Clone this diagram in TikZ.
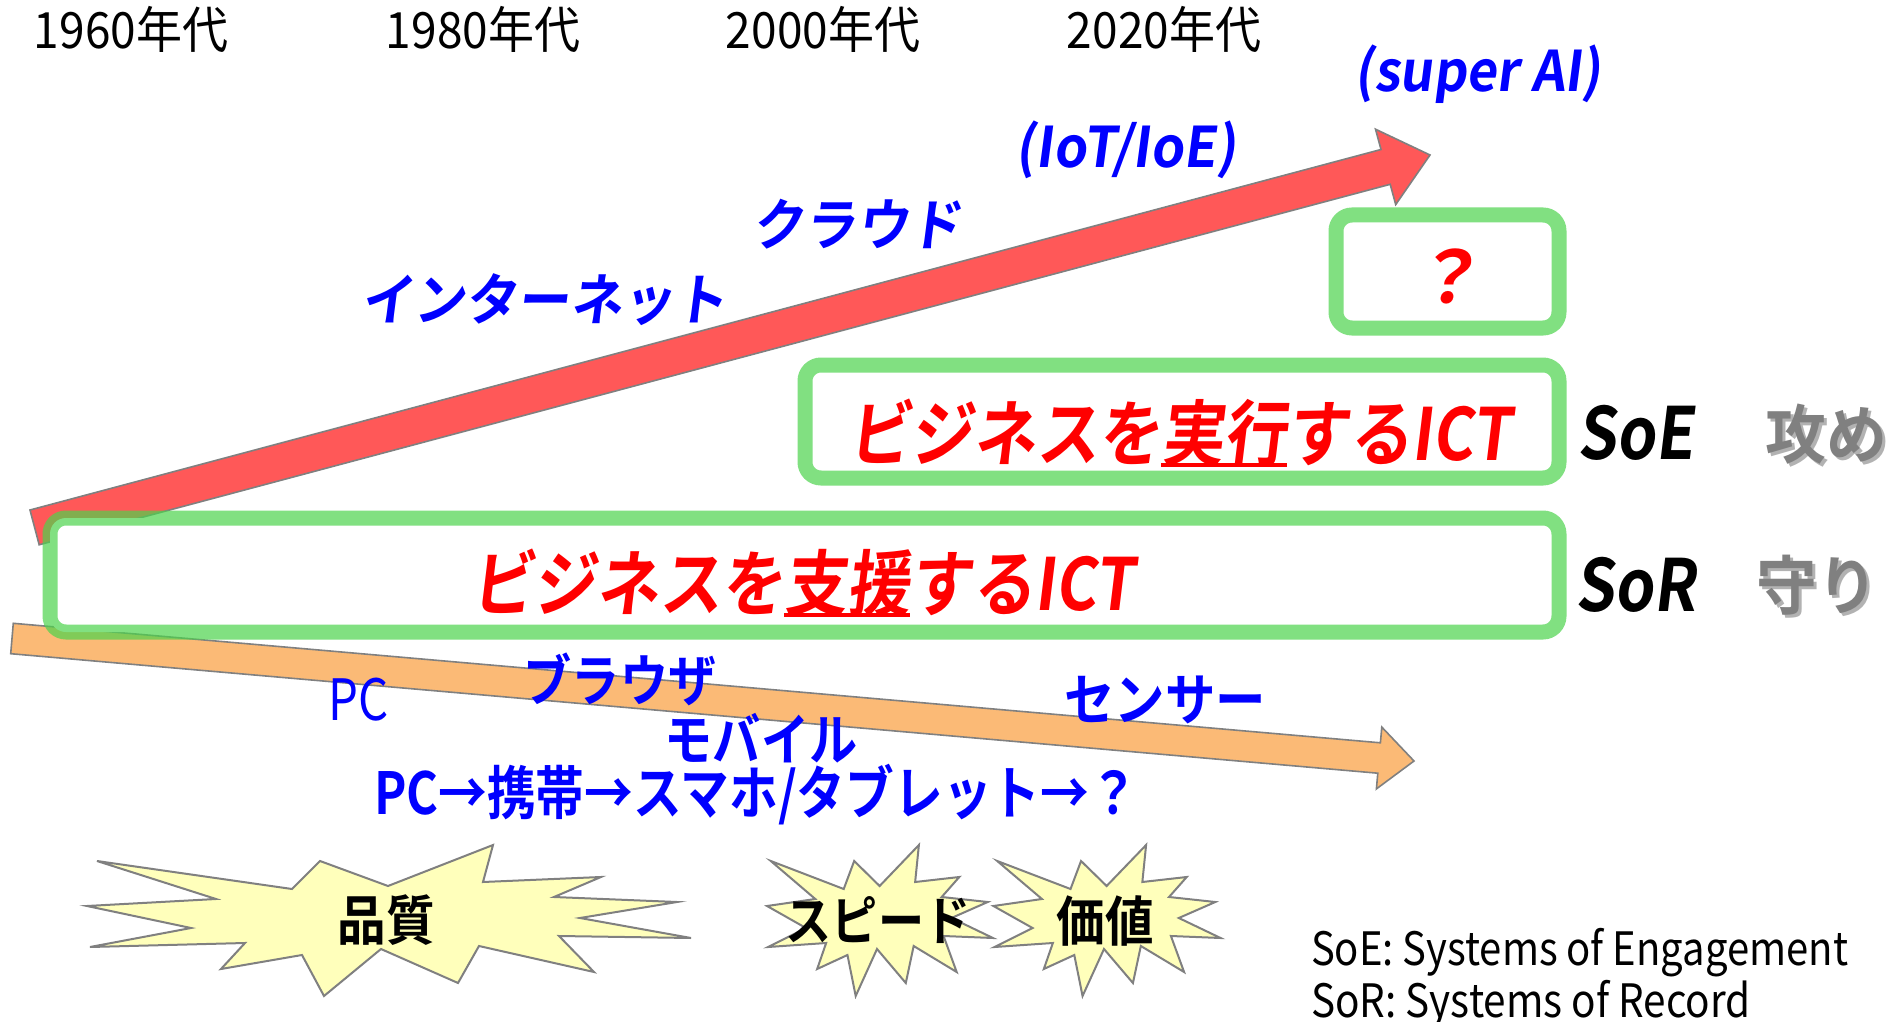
\documentclass[tikz,border=0pt]{standalone}
\usepackage{fontspec}
\usepackage{graphicx}
\setmainfont{Noto Sans CJK JP}[
  UprightFont=*,
  BoldFont=* Bold,
  ItalicFont=*,
  ItalicFeatures={FakeSlant=0.14},
  BoldItalicFont=* Bold,
  BoldItalicFeatures={FakeSlant=0.14}]
\definecolor{jblue}{RGB}{0,0,255}
\definecolor{jred}{RGB}{255,0,0}
\definecolor{jgray}{RGB}{128,128,128}
\definecolor{boxgreen}{RGB}{76,211,76}
\definecolor{arrred}{RGB}{255,88,88}
\definecolor{arrorange}{RGB}{251,186,118}
\definecolor{starfill}{RGB}{255,255,187}
\newcommand{\cx}[2]{\scalebox{#1}[1]{#2}}
\newcommand{\myul}[1]{\setbox0=\hbox{#1}\rlap{\rule[-0.1em]{\wd0}{0.065em}}\box0}
\newcommand{\starpoly}{(-292,861) -- (-97,889) -- (-69,861) -- (-1,886) -- (104,845) -- (94,882) -- (212,877) -- (165,897) -- (288,902) -- (191,918) -- (302,938) -- (170,936) -- (205,972) -- (90,946) -- (69,983) -- (-8,949) -- (-65,996) -- (-87,955) -- (-168,969) -- (-144,943) -- (-299,947) -- (-198,928) -- (-302,906) -- (-173,899) -- cycle}
\begin{document}
\begin{tikzpicture}[x=0.5pt,y=-0.5pt,
  lbl/.style={inner sep=0pt, outer sep=0pt},
  year/.style={lbl, anchor=base, font=\fontsize{25}{30}\selectfont},
  bluebi/.style={lbl, text=jblue, font=\fontsize{28}{34}\selectfont\bfseries\itshape},
  bluer/.style={lbl, text=jblue, font=\fontsize{28}{34}\selectfont\bfseries},
  redbig/.style={lbl, text=jred, font=\fontsize{36}{42}\selectfont\bfseries\itshape},
  sotext/.style={lbl, text=black, font=\fontsize{36}{42}\selectfont\bfseries\itshape},
  graytext/.style={lbl, text=jgray, font=\fontsize{32}{38}\selectfont\bfseries},
  grayshadow/.style={lbl, text=black, text opacity=0.3, font=\fontsize{32}{38}\selectfont\bfseries},
  startext/.style={lbl, text=black, font=\fontsize{27}{32}\selectfont\bfseries},
  legend/.style={lbl, anchor=base west, font=\fontsize{23}{27}\selectfont},
  gbox/.style={draw=boxgreen, draw opacity=0.7, fill=white, line width=7.5pt, rounded corners=8pt},
  burst/.style={draw=jgray, fill=starfill, line width=1pt, line join=miter},
  blockarrow/.style={draw=jgray, line width=0.8pt}
]
\useasboundingbox (0,0) rectangle (1903,1022);
\fill[white] (0,0) rectangle (1903,1022);

% year labels
\node[year] (y1960) at (131,49) {\cx{0.92}{1960年代}};
\node[year] (y1980) at (483,49) {\cx{0.92}{1980年代}};
\node[year] (y2000) at (823,49) {\cx{0.92}{2000年代}};
\node[year] (y2020) at (1164,49) {\cx{0.92}{2020年代}};

% block arrows
\draw[blockarrow, fill=arrred] (30,510) -- (1381,149.5) -- (1375.5,129.2) -- (1430,155) -- (1395.7,204.6) -- (1390.2,184.3) -- (39.2,544.8) -- cycle;
\draw[blockarrow, fill=arrorange] (13.3,623.3) -- (1380.4,742.8) -- (1381.8,727.1) -- (1414,761) -- (1376.4,788.9) -- (1377.8,773.2) -- (10.7,653.7) -- cycle;

% blue italic labels on red arrow
\node[bluebi, anchor=base] (superai) at (1478,92) {\cx{0.93}{(super AI)}};
\node[bluebi, anchor=base] (iot) at (1126,168) {\cx{0.95}{(IoT/IoE)}};
\node[bluebi] (cloud) at (857,224) {\cx{0.93}{クラウド}};
\node[bluebi] (internet) at (544,300) {\cx{0.93}{インターネット}};

% green boxes
\draw[gbox] (1336,215) rectangle (1559,328);
\draw[gbox] (805,365) rectangle (1559,478);
\draw[gbox] (50,518) rectangle (1559,632);

\node[redbig] (qmark) at (1447,276) {？};
\node[redbig] (soetext) at (1180,433) {\cx{0.87}{ビジネスを\myul{実行}するICT}};
\node[redbig] (sortext) at (803,583) {\cx{0.87}{ビジネスを\myul{支援}するICT}};

% SoE / SoR
\node[sotext] (soe) at (1636,433) {\cx{0.87}{SoE}};
\node[sotext] (sor) at (1636,585) {\cx{0.87}{SoR}};
\node[grayshadow] (semeshadow) at (1829,437) {\cx{0.95}{攻め}};
\node[graytext] (seme) at (1826,434) {\cx{0.95}{攻め}};
\node[grayshadow] (mamorishadow) at (1820,588) {\cx{0.95}{守り}};
\node[graytext] (mamori) at (1817,585) {\cx{0.95}{守り}};

% blue labels on orange arrow
\node[lbl, text=jblue, anchor=base, font=\fontsize{28.5}{34}\selectfont] (pc) at (359,720) {\cx{0.83}{PC}};
\node[bluer] (browser) at (620,679) {\cx{0.86}{ブラウザ}};
\node[bluer] (sensor) at (1165,700) {\cx{0.9}{センサー}};
\node[bluer] (mobile) at (761,738) {\cx{0.86}{モバイル}};
\node[bluer, font=\fontsize{29}{35}\selectfont\bfseries] (devices) at (756,795) {\cx{0.84}{PC→携帯→スマホ/タブレット→？}};

% starbursts
\begin{scope}[shift={(389,0)}]
  \draw[burst] \starpoly;
\end{scope}
\begin{scope}[shift={(880,0)}, xscale=0.374]
  \draw[burst] \starpoly;
\end{scope}
\begin{scope}[shift={(1107,0)}, xscale=0.376]
  \draw[burst] \starpoly;
\end{scope}
\node[startext] (quality) at (386,920) {\cx{0.9}{品質}};
\node[startext, font=\fontsize{26.5}{32}\selectfont\bfseries] (speed) at (878,920) {\cx{0.87}{スピード}};
\node[startext] (value) at (1105,921) {\cx{0.9}{価値}};

% legend
\node[legend] (leg1) at (1311,965) {\cx{0.87}{SoE: Systems of Engagement}};
\node[legend] (leg2) at (1311,1017) {\cx{0.88}{SoR: Systems of Record}};
\end{tikzpicture}
\end{document}
